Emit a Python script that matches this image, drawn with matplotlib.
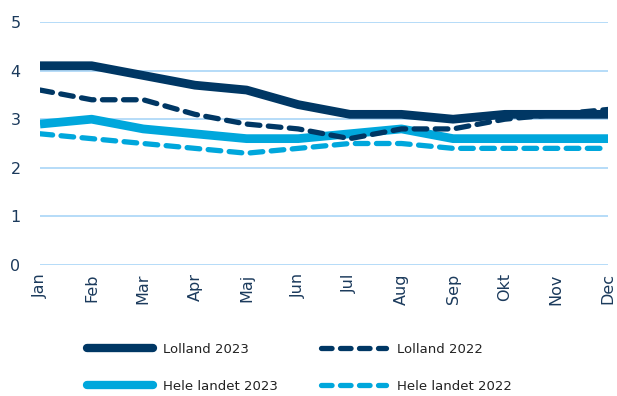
import matplotlib.pyplot as plt
from matplotlib.lines import Line2D

months = ["Jan", "Feb", "Mar", "Apr", "Maj", "Jun", "Jul", "Aug", "Sep", "Okt", "Nov", "Dec"]
lolland_2023 = [4.1, 4.1, 3.9, 3.7, 3.6, 3.3, 3.1, 3.1, 3.0, 3.1, 3.1, 3.1]
lolland_2022 = [3.6, 3.4, 3.4, 3.1, 2.9, 2.8, 2.6, 2.8, 2.8, 3.0, 3.1, 3.2]
hele_2023 = [2.9, 3.0, 2.8, 2.7, 2.6, 2.6, 2.7, 2.8, 2.6, 2.6, 2.6, 2.6]
hele_2022 = [2.7, 2.6, 2.5, 2.4, 2.3, 2.4, 2.5, 2.5, 2.4, 2.4, 2.4, 2.4]

navy = "#003764"
light = "#00a7dc"
grid = "#a9d5f7"
text = "#1b3a5c"

fig = plt.figure(figsize=(6.17, 3.96), dpi=100)
ax = fig.add_axes([40 / 617, 1 - 265 / 396, 568 / 617, 243 / 396])

x = range(len(months))
ax.plot(x, hele_2022, color=light, lw=3.8, dashes=(2.4, 1.6), dash_capstyle="round", zorder=3)
ax.plot(x, hele_2023, color=light, lw=6.3, solid_capstyle="butt", zorder=4)
ax.plot(x, lolland_2022, color=navy, lw=3.8, dashes=(2.4, 1.6), dash_capstyle="round", zorder=5)
ax.plot(x, lolland_2023, color=navy, lw=6.3, solid_capstyle="butt", zorder=6)

ax.set_xlim(0, 11)
ax.set_ylim(0, 5)
ax.set_yticks(range(6))
ax.set_xticks(list(x))
ax.set_xticklabels(months, rotation=90)
ax.grid(axis="y", color=grid, lw=1.2)
ax.set_axisbelow(True)
for s in ax.spines.values():
    s.set_visible(False)
ax.tick_params(length=0, labelsize=11.5, colors=text, pad=6)
ax.tick_params(axis="y", pad=14)

handles = [
    Line2D([], [], color=navy, lw=6, solid_capstyle="round"),
    Line2D([], [], color=light, lw=6, solid_capstyle="round"),
    Line2D([], [], color=navy, lw=3.8, dashes=(2.0, 1.6), dash_capstyle="round"),
    Line2D([], [], color=light, lw=3.8, dashes=(2.0, 1.6), dash_capstyle="round"),
]
labels = ["Lolland 2023", "Hele landet 2023", "Lolland 2022", "Hele landet 2022"]
fig.legend(handles, labels, ncol=2, loc="lower left", bbox_to_anchor=(75 / 617, -0.022),
           frameon=False, fontsize=9.5, handlelength=5, handletextpad=0.8,
           columnspacing=3.2, labelspacing=1.8, labelcolor="#222222")

fig.savefig("out.png", dpi=100)
